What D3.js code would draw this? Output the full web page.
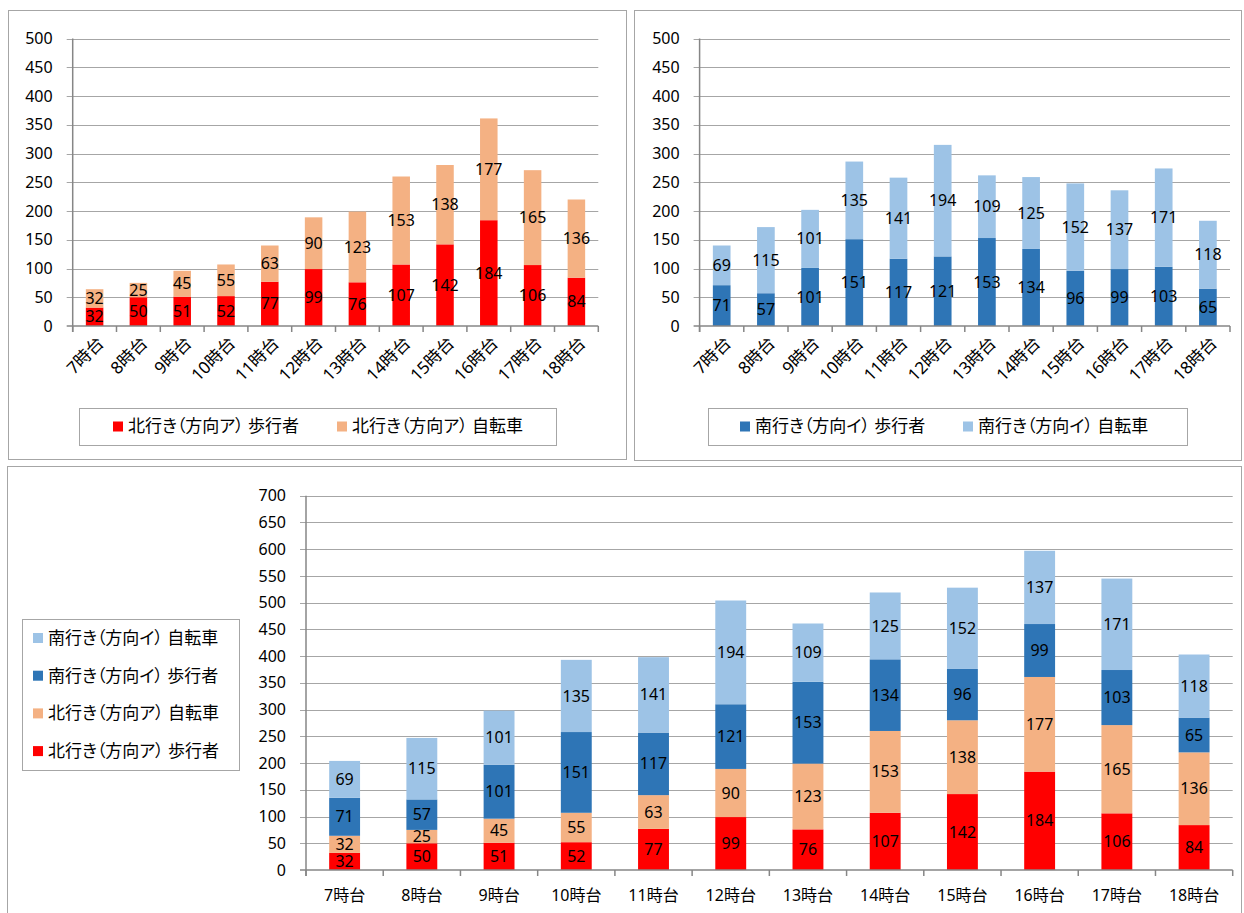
<!DOCTYPE html>
<html><head><meta charset="utf-8">
<script src="https://cdn.jsdelivr.net/npm/d3@7"></script>
<style>
body{margin:0;background:#fff;}
text{font-family:"Noto Sans","Noto Sans CJK JP",sans-serif;fill:#000;font-feature-settings:"palt";}
</style></head>
<body>
<svg id="c" width="1244" height="913"></svg>
<script>
const categories = ["7時台","8時台","9時台","10時台","11時台","12時台","13時台","14時台","15時台","16時台","17時台","18時台"];
const northWalk = [32,50,51,52,77,99,76,107,142,184,106,84];
const northBike = [32,25,45,55,63,90,123,153,138,177,165,136];
const southWalk = [71,57,101,151,117,121,153,134,96,99,103,65];
const southBike = [69,115,101,135,141,194,109,125,152,137,171,118];
const seriesNames = {
  nw:"北行き（方向ア） 歩行者", nb:"北行き（方向ア） 自転車",
  sw:"南行き（方向イ） 歩行者", sb:"南行き（方向イ） 自転車"
};
const colors = {nw:"#FF0000", nb:"#F4B183", sw:"#2E75B6", sb:"#9DC3E6"};
const topTicks = [0,50,100,150,200,250,300,350,400,450,500];
const bottomTicks = [0,50,100,150,200,250,300,350,400,450,500,550,600,650,700];

const svg = d3.select("#c");
const FS = 16;
const LFS = 17;

svg.append("rect").attr("x",8.5).attr("y",10.5).attr("width",618).attr("height",449)
  .attr("fill","none").attr("stroke","#A6A6A6");
svg.append("rect").attr("x",634.5).attr("y",10.5).attr("width",607).attr("height",450)
  .attr("fill","none").attr("stroke","#A6A6A6");
svg.append("rect").attr("x",7.5).attr("y",466.5).attr("width",1234).attr("height",460)
  .attr("fill","none").attr("stroke","#A6A6A6");

function chart(opt){
  const g = svg.append("g");
  const x = d3.scaleBand().domain(categories).range([opt.x0,opt.x1]).paddingInner(0.6).paddingOuter(0.3);
  const y = d3.scaleLinear().domain([0,opt.max]).range([opt.y0,opt.y1]);
  g.selectAll(".grid").data(opt.ticks.slice(1)).join("line")
    .attr("x1",opt.x0-6).attr("x2",opt.x1).attr("y1",d=>Math.round(y(d))+0.5).attr("y2",d=>Math.round(y(d))+0.5)
    .attr("stroke","#A6A6A6").attr("stroke-width",1);
  g.selectAll(".yl").data(opt.ticks).join("text")
    .attr("x",opt.x0-20).attr("y",d=>y(d)).attr("dy","0.35em").attr("text-anchor","end")
    .attr("font-size",FS).text(d=>d);
  const rows = categories.map((c,i)=>{const r={cat:c}; opt.keys.forEach(k=>r[k]=opt.data[k][i]); return r;});
  const stack = d3.stack().keys(opt.keys)(rows);
  const bw = x.bandwidth();
  stack.forEach(layer=>{
    const key = layer.key;
    g.selectAll(".b"+key).data(layer).join("rect")
      .attr("x",d=>x(d.data.cat)).attr("width",bw)
      .attr("y",d=>y(d[1])).attr("height",d=>y(d[0])-y(d[1]))
      .attr("fill",colors[key]);
  });
  stack.forEach(layer=>{
    g.selectAll(".t"+layer.key).data(layer).join("text")
      .attr("x",d=>x(d.data.cat)+bw/2).attr("y",d=>(y(d[0])+y(d[1]))/2).attr("dy","0.35em")
      .attr("text-anchor","middle").attr("font-size",FS).text(d=>d[1]-d[0]);
  });
  g.append("line").attr("x1",opt.x0).attr("x2",opt.x0).attr("y1",opt.y1).attr("y2",opt.y0+6)
    .attr("stroke","#868686").attr("stroke-width",1.5);
  g.append("line").attr("x1",opt.x0-6).attr("x2",opt.x1).attr("y1",opt.y0).attr("y2",opt.y0)
    .attr("stroke","#868686").attr("stroke-width",1.5);
  const step = (opt.x1-opt.x0)/categories.length;
  g.selectAll(".xt").data(d3.range(categories.length+1)).join("line")
    .attr("x1",d=>opt.x0+d*step).attr("x2",d=>opt.x0+d*step).attr("y1",opt.y0).attr("y2",opt.y0+6)
    .attr("stroke","#868686").attr("stroke-width",1.5);
  if(opt.rotate){
    g.selectAll(".xl").data(categories).join("text")
      .attr("transform",d=>`translate(${x(d)+bw/2+6},${opt.y0+14}) rotate(-45)`)
      .attr("text-anchor","end").attr("dy","0.35em").attr("font-size",FS+1).text(d=>d);
  } else {
    g.selectAll(".xl").data(categories).join("text")
      .attr("x",d=>x(d)+bw/2).attr("y",opt.y0+25).attr("dy","0.35em")
      .attr("text-anchor","middle").attr("font-size",FS).text(d=>d);
  }
}

chart({x0:72.7,x1:598.3,y0:326,y1:38.5,max:500,ticks:topTicks,keys:["nw","nb"],
  data:{nw:northWalk,nb:northBike},rotate:true});
chart({x0:699.6,x1:1230,y0:326,y1:38.5,max:500,ticks:topTicks,keys:["sw","sb"],
  data:{sw:southWalk,sb:southBike},rotate:true});
chart({x0:306,x1:1232.7,y0:870,y1:495.7,max:700,ticks:bottomTicks,keys:["nw","nb","sw","sb"],
  data:{nw:northWalk,nb:northBike,sw:southWalk,sb:southBike},rotate:false});

function hLegend(x0,x1,y0,y1,items){
  svg.append("rect").attr("x",x0+0.5).attr("y",y0+0.5).attr("width",x1-x0).attr("height",y1-y0)
    .attr("fill","#fff").attr("stroke","#A6A6A6");
  items.forEach(it=>{
    svg.append("rect").attr("x",it.x).attr("y",(y0+y1)/2-5).attr("width",10).attr("height",10).attr("fill",colors[it.k]);
    svg.append("text").attr("x",it.x+15).attr("y",(y0+y1)/2).attr("dy","0.35em").attr("font-size",LFS).text(seriesNames[it.k]);
  });
}
hLegend(79,556,408,445,[{k:"nw",x:113},{k:"nb",x:337}]);
hLegend(708,1187,408,445,[{k:"sw",x:740},{k:"sb",x:963}]);

svg.append("rect").attr("x",22.5).attr("y",619.5).attr("width",217).attr("height",151)
  .attr("fill","#fff").attr("stroke","#A6A6A6");
["sb","sw","nb","nw"].forEach((k,i)=>{
  const cy = 638 + i*37.7;
  svg.append("rect").attr("x",33).attr("y",cy-5).attr("width",10).attr("height",10).attr("fill",colors[k]);
  svg.append("text").attr("x",48).attr("y",cy).attr("dy","0.35em").attr("font-size",LFS).text(seriesNames[k]);
});
</script>
</body></html>
